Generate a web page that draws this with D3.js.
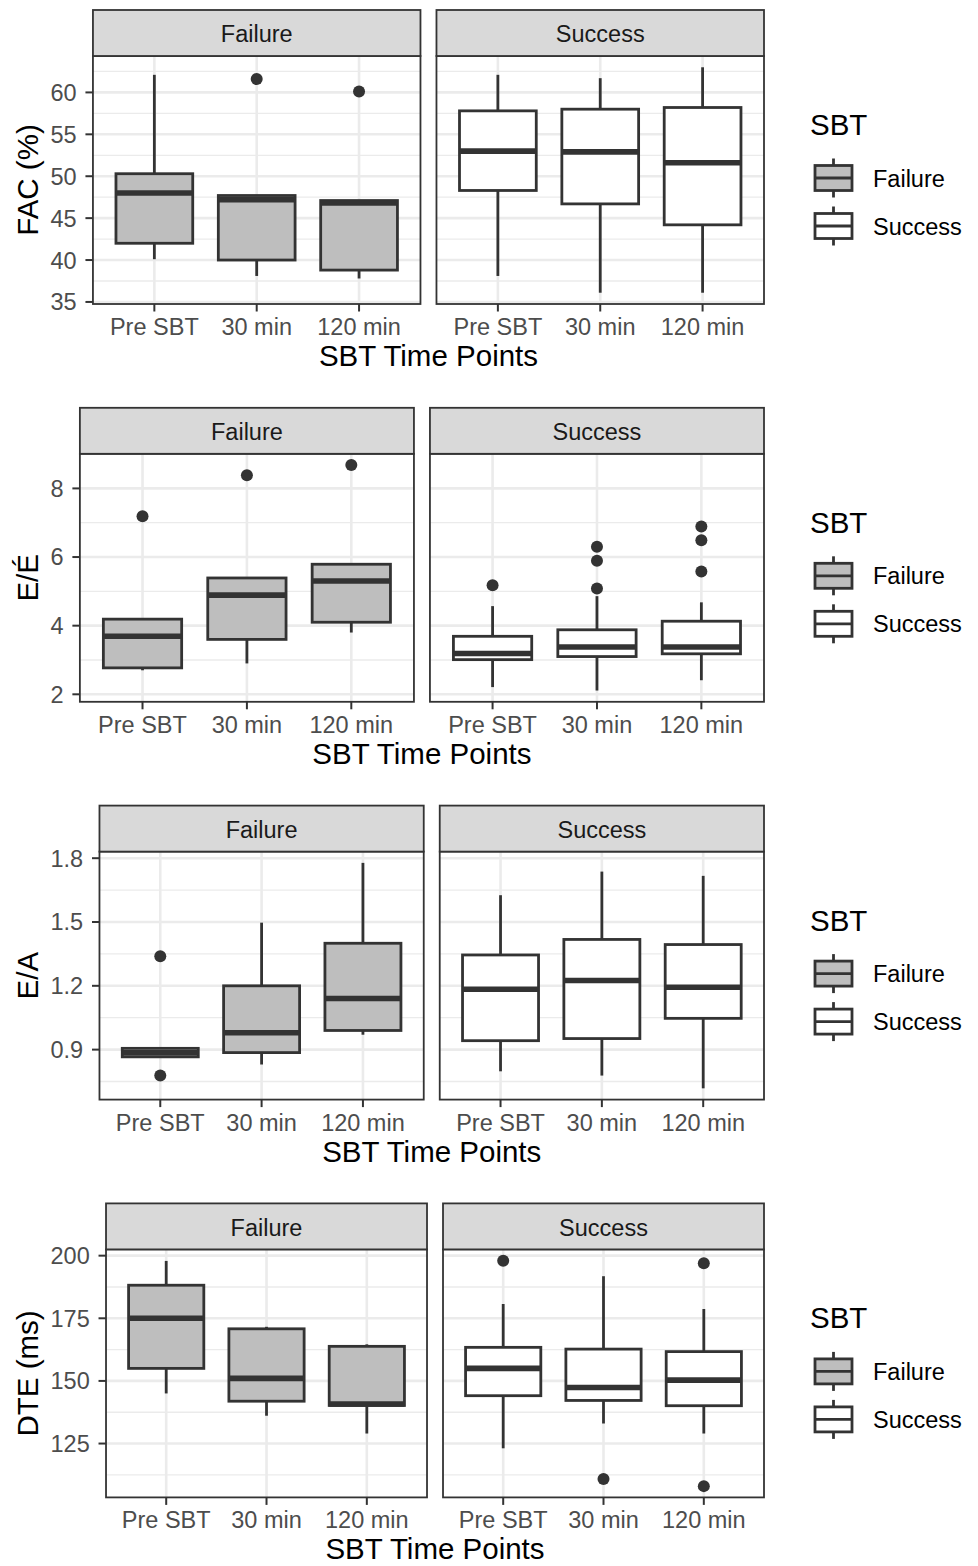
<!DOCTYPE html>
<html lang="en">
<head>
<meta charset="utf-8">
<title>SBT boxplots</title>
<script src="https://d3js.org/d3.v7.min.js"></script>
<style>
  body { margin: 0; background: #fff; }
  svg { display: block; font-family: "Liberation Sans", Arial, sans-serif; }
</style>
</head>
<body>
<script>
// categories
var timePoints = ["Pre SBT", "30 min", "120 min"];
var groups = ["Failure", "Success"];

// box stats per time point: [lower whisker, Q1, median, Q3, upper whisker]
var facFailure = [[40.1, 42.0, 48.0, 50.3, 62.1], [38.1, 40.0, 47.2, 47.7, 47.7], [37.8, 38.8, 46.8, 47.1, 47.1]];
var facSuccess = [[38.1, 48.3, 53.0, 57.8, 62.1], [36.1, 46.7, 52.9, 58.0, 61.7], [36.1, 44.2, 51.6, 58.2, 63.0]];
var facFailureOut = [[], [61.6], [60.1]];
var facSuccessOut = [[], [], []];
var facTicks = [35, 40, 45, 50, 55, 60];

var eeFailure = [[2.7, 2.77, 3.69, 4.19, 4.19], [2.9, 3.6, 4.89, 5.39, 5.39], [3.8, 4.1, 5.3, 5.79, 5.79]];
var eeSuccess = [[2.21, 3.01, 3.19, 3.69, 4.57], [2.11, 3.1, 3.38, 3.88, 4.86], [2.41, 3.18, 3.38, 4.13, 4.68]];
var eeFailureOut = [[7.19], [8.38], [8.68]];
var eeSuccessOut = [[5.18], [6.3, 5.89, 5.08], [6.89, 6.49, 5.58]];
var eeTicks = [2, 4, 6, 8];

var eaFailure = [[0.866, 0.866, 0.885, 0.906, 0.906], [0.83, 0.886, 0.979, 1.2, 1.497], [0.97, 0.99, 1.14, 1.40, 1.778]];
var eaSuccess = [[0.798, 0.942, 1.184, 1.345, 1.626], [0.778, 0.952, 1.225, 1.418, 1.737], [0.718, 1.047, 1.193, 1.394, 1.717]];
var eaFailureOut = [[1.339, 0.778], [], []];
var eaSuccessOut = [[], [], []];
var eaTicks = [0.9, 1.2, 1.5, 1.8];

var dteFailure = [[145.0, 155.0, 175.0, 188.2, 197.9], [136.1, 141.9, 151.0, 170.8, 171.6], [129.0, 140.2, 140.8, 163.8, 164.6]];
var dteSuccess = [[123.1, 144.1, 155.0, 163.4, 180.7], [133.0, 142.2, 147.4, 162.7, 191.8], [129.0, 140.1, 150.3, 161.7, 178.7]];
var dteFailureOut = [[], [], []];
var dteSuccessOut = [[198.0], [110.8], [197.0, 108.0]];
var dteTicks = [125, 150, 175, 200];

var yLabels = ["FAC (%)", "E/\u00C9", "E/A", "DTE (ms)"];

var rows = [
  { label: yLabels[0], ticks: facTicks, stats: [facFailure, facSuccess], outs: [facFailureOut, facSuccessOut] },
  { label: yLabels[1], ticks: eeTicks, stats: [eeFailure, eeSuccess], outs: [eeFailureOut, eeSuccessOut] },
  { label: yLabels[2], ticks: eaTicks, stats: [eaFailure, eaSuccess], outs: [eaFailureOut, eaSuccessOut] },
  { label: yLabels[3], ticks: dteTicks, stats: [dteFailure, dteSuccess], outs: [dteFailureOut, dteSuccessOut] }
];

var w = 978, h = 1566;
var rowStep = 397.8;
var stripH = 46, panelH = 248;
var rightEdge = 764, panelGap = 16;
var fills = { Failure: "#bebebe", Success: "#ffffff" };
var dark = "#333333";
var smallFont = 23.5, bigFont = 29.5;

var svg = d3.select("body").append("svg").attr("width", w).attr("height", h);

// measure the widest tick label so the panel starts right after it
var probe = svg.append("text").style("font-size", smallFont + "px");
function textWidth(s) {
  probe.text(s);
  return probe.node().getComputedTextLength();
}

rows.forEach(function (row, r) {
  var top = 10 + r * rowStep;
  var g = svg.append("g").attr("transform", "translate(0," + top + ")");

  var maxW = d3.max(row.ticks, function (t) { return textWidth(String(t)); });
  var left = 50.5 + maxW + 16.3;
  var pw = (rightEdge - left - panelGap) / 2;

  // y domain like ggplot: data range plus 5% each side
  var all = [];
  row.stats.forEach(function (s) { s.forEach(function (b) { all.push(b[0], b[4]); }); });
  row.outs.forEach(function (o) { o.forEach(function (p) { all = all.concat(p); }); });
  var lo = d3.min(all), hi = d3.max(all), pad = (hi - lo) * 0.05;
  var y = d3.scaleLinear().domain([lo - pad, hi + pad]).range([stripH + panelH, stripH]);

  var step = row.ticks[1] - row.ticks[0];
  var minor = [];
  for (var m = row.ticks[0] - step / 2; m <= hi + pad; m += step) {
    if (m >= lo - pad) minor.push(m);
  }

  groups.forEach(function (grp, gi) {
    var px = left + gi * (pw + panelGap);
    var x = d3.scalePoint().domain(timePoints).range([px, px + pw]).padding(0.6);
    var bw = x.step() * 0.75;
    var p = g.append("g");

    p.append("rect").attr("x", px).attr("y", stripH).attr("width", pw).attr("height", panelH).attr("fill", "#fff");

    p.selectAll(".minor").data(minor).enter().append("line")
      .attr("x1", px).attr("x2", px + pw)
      .attr("y1", function (d) { return y(d); }).attr("y2", function (d) { return y(d); })
      .attr("stroke", "#ebebeb").attr("stroke-width", 1.3);
    p.selectAll(".major").data(row.ticks).enter().append("line")
      .attr("x1", px).attr("x2", px + pw)
      .attr("y1", function (d) { return y(d); }).attr("y2", function (d) { return y(d); })
      .attr("stroke", "#ebebeb").attr("stroke-width", 2.6);
    p.selectAll(".vgrid").data(timePoints).enter().append("line")
      .attr("x1", function (d) { return x(d); }).attr("x2", function (d) { return x(d); })
      .attr("y1", stripH).attr("y2", stripH + panelH)
      .attr("stroke", "#ebebeb").attr("stroke-width", 2.6);

    var boxes = row.stats[gi].map(function (b, i) { return { t: timePoints[i], b: b, out: row.outs[gi][i] }; });
    var bx = p.selectAll(".box").data(boxes).enter().append("g");
    bx.append("line")
      .attr("x1", function (d) { return x(d.t); }).attr("x2", function (d) { return x(d.t); })
      .attr("y1", function (d) { return y(d.b[3]); }).attr("y2", function (d) { return y(d.b[4]); })
      .attr("stroke", dark).attr("stroke-width", 2.8);
    bx.append("line")
      .attr("x1", function (d) { return x(d.t); }).attr("x2", function (d) { return x(d.t); })
      .attr("y1", function (d) { return y(d.b[1]); }).attr("y2", function (d) { return y(d.b[0]); })
      .attr("stroke", dark).attr("stroke-width", 2.8);
    bx.append("rect")
      .attr("x", function (d) { return x(d.t) - bw / 2; }).attr("width", bw)
      .attr("y", function (d) { return y(d.b[3]); })
      .attr("height", function (d) { return y(d.b[1]) - y(d.b[3]); })
      .attr("fill", fills[grp]).attr("stroke", dark).attr("stroke-width", 2.8);
    bx.append("line")
      .attr("x1", function (d) { return x(d.t) - bw / 2; }).attr("x2", function (d) { return x(d.t) + bw / 2; })
      .attr("y1", function (d) { return y(d.b[2]); }).attr("y2", function (d) { return y(d.b[2]); })
      .attr("stroke", dark).attr("stroke-width", 5.6);
    bx.each(function (d) {
      d3.select(this).selectAll("circle").data(d.out).enter().append("circle")
        .attr("cx", x(d.t)).attr("cy", function (v) { return y(v); })
        .attr("r", 6).attr("fill", dark);
    });

    // panel border and strip
    p.append("rect").attr("x", px).attr("y", stripH).attr("width", pw).attr("height", panelH)
      .attr("fill", "none").attr("stroke", dark).attr("stroke-width", 1.8);
    p.append("rect").attr("x", px).attr("y", 0).attr("width", pw).attr("height", stripH)
      .attr("fill", "#d9d9d9").attr("stroke", dark).attr("stroke-width", 1.8);
    p.append("text").attr("x", px + pw / 2).attr("y", 32.3).attr("text-anchor", "middle")
      .style("font-size", smallFont + "px").attr("fill", "#1a1a1a").text(grp);

    // x axis
    p.selectAll(".xt").data(timePoints).enter().append("line")
      .attr("x1", function (d) { return x(d); }).attr("x2", function (d) { return x(d); })
      .attr("y1", stripH + panelH).attr("y2", stripH + panelH + 7.5)
      .attr("stroke", dark).attr("stroke-width", 2);
    p.selectAll(".xl").data(timePoints).enter().append("text")
      .attr("x", function (d) { return x(d); }).attr("y", stripH + panelH + 31)
      .attr("text-anchor", "middle").style("font-size", smallFont + "px").attr("fill", "#4d4d4d")
      .text(function (d) { return d; });
  });

  // y axis on the left panel
  g.selectAll(".yt").data(row.ticks).enter().append("line")
    .attr("x1", left - 7.5).attr("x2", left)
    .attr("y1", function (d) { return y(d); }).attr("y2", function (d) { return y(d); })
    .attr("stroke", dark).attr("stroke-width", 2);
  g.selectAll(".yl").data(row.ticks).enter().append("text")
    .attr("x", left - 16.3).attr("y", function (d) { return y(d); })
    .attr("dy", "0.36em").attr("text-anchor", "end")
    .style("font-size", smallFont + "px").attr("fill", "#4d4d4d")
    .text(function (d) { return String(d); });

  g.append("text")
    .attr("transform", "translate(37.5," + (stripH + panelH / 2) + ") rotate(-90)")
    .attr("text-anchor", "middle").style("font-size", bigFont + "px").attr("fill", "#000")
    .text(row.label);

  g.append("text").attr("x", (left + rightEdge) / 2).attr("y", stripH + panelH + 62)
    .attr("text-anchor", "middle").style("font-size", bigFont + "px").attr("fill", "#000")
    .text("SBT Time Points");

  // legend
  g.append("text").attr("x", 810).attr("y", 125).style("font-size", bigFont + "px").attr("fill", "#000").text("SBT");
  groups.forEach(function (grp, gi) {
    var cy = 168 + gi * 48;
    var kx = 833.5;
    g.append("line").attr("x1", kx).attr("x2", kx).attr("y1", cy - 19.5).attr("y2", cy + 19.5)
      .attr("stroke", dark).attr("stroke-width", 2.8);
    g.append("rect").attr("x", 815).attr("y", cy - 12.5).attr("width", 37).attr("height", 25)
      .attr("fill", fills[grp]).attr("stroke", dark).attr("stroke-width", 2.8);
    g.append("line").attr("x1", 815).attr("x2", 852).attr("y1", cy).attr("y2", cy)
      .attr("stroke", dark).attr("stroke-width", 2.8);
    g.append("text").attr("x", 873).attr("y", cy + 8.5).style("font-size", smallFont + "px")
      .attr("fill", "#000").text(grp);
  });
});

probe.remove();
</script>
</body>
</html>
